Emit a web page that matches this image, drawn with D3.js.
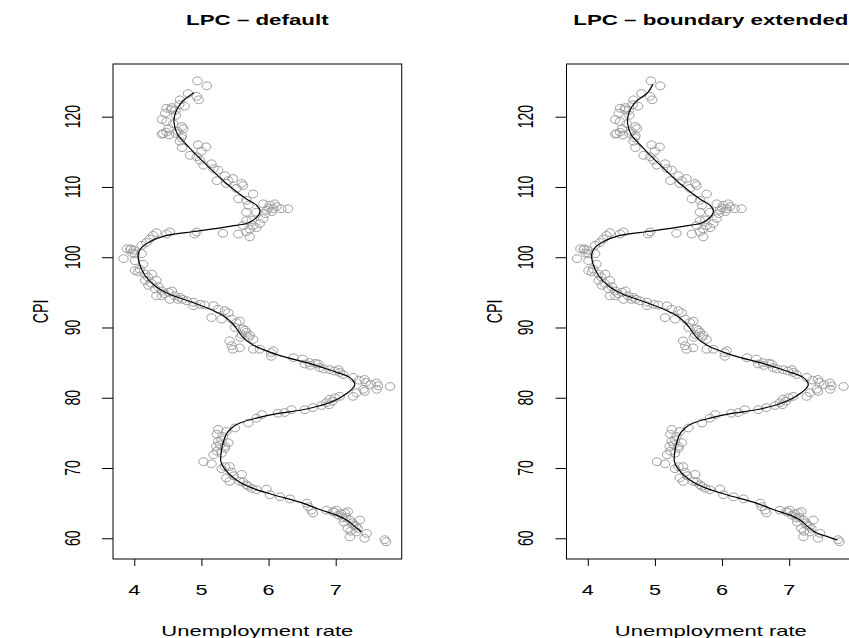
<!DOCTYPE html>
<html><head><meta charset="utf-8">
<script src="https://cdn.jsdelivr.net/npm/d3@7"></script>
<style>html,body{margin:0;padding:0;background:#fff;} svg{display:block}</style>
</head><body><svg id="c" width="849" height="638"></svg>
<script>
// ---- data ----
const unemployment = [4.94,5.08,4.80,4.96,4.93,4.68,4.67,4.75,4.48,4.56,4.61,4.46,4.41,4.48,4.51,4.71,4.73,4.43,4.41,4.48,4.65,4.71,4.68,4.71,4.95,5.07,5.00,4.83,4.93,4.98,5.03,5.15,5.18,5.25,5.23,5.35,5.40,5.37,5.47,5.60,5.62,5.52,5.77,5.55,5.67,5.70,5.92,6.02,6.09,6.07,6.19,6.29,5.97,5.82,5.67,5.67,5.92,5.87,5.77,5.72,5.67,5.55,5.72,5.32,4.93,4.90,4.53,4.48,4.33,4.28,4.23,4.18,4.11,3.89,3.94,3.99,4.11,
3.84,4.01,4.01,4.13,4.01,4.06,4.16,4.26,4.16,4.21,4.33,4.31,4.41,4.33,4.41,4.51,4.56,4.53,4.65,4.68,4.78,4.88,4.88,4.98,5.05,5.18,5.25,5.35,5.40,5.15,5.30,5.45,5.52,5.57,5.50,5.62,5.67,5.60,5.70,5.77,5.42,5.45,5.57,5.47,5.77,5.87,6.04,6.04,6.07,6.37,6.51,6.54,6.61,6.74,6.76,6.91,7.04,7.06,7.11,7.26,7.43,7.61,7.63,7.81,7.41,7.61,7.31,7.43,7.26,7.06,6.99,6.91,6.86,6.79,6.66,6.54,6.34,6.24,6.14,5.90,5.82,5.70,5.50,5.37,5.25,5.23,5.32,5.25,5.40,5.35,
5.23,5.30,5.18,5.03,5.15,5.35,5.42,5.30,5.45,5.60,5.37,5.42,5.57,5.67,5.75,5.82,5.97,6.02,6.17,6.32,6.57,6.59,6.66,6.64,6.86,6.96,7.01,7.04,7.14,7.18,7.11,7.21,7.36,7.26,7.18,7.33,7.31,7.46,7.21,7.43,7.73,7.75,
4.55,4.62,4.58,4.52,4.62,4.70,6.00,6.12,5.95,6.05,5.75,5.82,5.62,3.95,3.97,4.08,4.20,4.25,4.36,4.45,4.60,4.72,5.65,5.72,5.58,6.62,6.82,6.70,6.98,7.35,7.52,7.45,6.95,6.90,5.28,5.35,5.22,5.30,7.08,7.15,7.25,7.30,7.22,6.98,7.12,5.48,5.62,5.70];
const cpi = [125.1,124.4,123.3,122.4,122.9,122.4,121.7,121.5,121.2,121.3,120.9,120.5,119.6,119.3,118.3,118.6,118.3,117.6,117.5,117.8,117.9,117.3,116.5,115.6,116.0,115.7,115.1,114.5,114.3,113.8,113.1,113.3,112.6,112.4,110.9,111.6,110.9,110.5,111.2,110.5,110.2,109.8,109.0,108.3,108.1,107.4,107.6,107.4,107.6,106.9,106.9,106.9,106.7,106.4,106.4,105.2,105.5,104.8,104.5,104.0,103.6,103.3,102.9,103.4,103.6,103.3,103.6,103.3,103.5,103.1,102.6,102.1,101.7,101.2,101.1,101.0,100.5,
99.8,100.5,99.5,99.0,98.1,97.9,97.6,97.6,96.7,96.0,96.7,95.5,95.2,94.5,94.5,95.0,95.2,94.0,94.0,94.3,93.8,93.6,93.1,93.3,93.2,93.1,92.6,92.4,92.1,91.4,91.2,91.2,90.7,90.9,90.0,89.8,89.3,89.0,88.6,88.3,88.1,87.4,87.1,86.9,86.9,86.9,86.4,85.9,86.7,85.7,85.5,84.8,85.0,84.8,84.3,84.0,84.0,83.6,83.3,82.9,82.6,82.1,81.7,81.6,81.2,81.2,80.7,80.9,80.2,80.2,80.0,79.8,79.3,78.9,78.6,78.3,78.3,77.9,77.8,77.6,77.1,76.4,75.7,75.2,75.5,74.8,74.5,73.8,73.6,73.1,
72.4,72.1,71.9,70.9,70.6,70.2,70.2,69.9,69.4,69.1,68.6,68.1,68.1,67.6,67.1,66.9,67.0,66.2,65.9,65.6,65.0,64.5,63.6,64.0,64.0,63.8,64.0,63.3,63.6,63.8,62.9,62.6,62.6,61.9,61.4,61.4,60.9,60.7,60.2,60.0,59.8,59.5,
121.0,120.2,119.0,117.4,117.6,117.0,107.0,107.2,106.2,106.5,105.3,104.2,104.5,101.2,100.6,98.3,97.2,96.3,95.8,94.8,94.5,94.0,89.6,88.9,88.6,84.6,84.1,84.9,83.8,82.5,81.9,82.2,79.5,79.0,73.3,72.8,73.1,74.0,63.5,63.0,62.2,61.7,61.0,63.7,62.3,68.9,68.0,67.4];

// principal curve, default
const lpcDefaultX = [4.89,4.71,4.62,4.59,4.61,4.65,4.83,5.08,5.37,5.67,5.82,5.87,5.85,5.70,5.42,4.93,4.48,4.23,4.11,4.06,4.07,4.16,4.31,4.51,4.80,5.13,5.32,5.47,5.62,5.77,6.17,6.57,6.96,7.21,7.28,7.28,7.18,6.96,6.57,6.17,5.82,5.57,5.45,5.37,5.33,5.30,5.29,5.35,5.52,5.77,6.07,6.51,6.76,7.01,7.16,7.38];
const lpcDefaultY = [123.4,122.1,120.7,119.5,118.3,117.4,115.5,113.1,110.5,108.3,107.4,106.7,106.0,104.9,104.4,103.7,103.1,102.2,101.4,100.5,99.3,97.4,95.9,94.8,93.8,92.6,91.7,90.5,88.6,87.5,86.0,85.0,83.8,82.9,82.1,81.7,80.7,79.5,78.4,77.8,77.1,76.4,75.7,74.8,73.8,72.6,70.9,69.8,68.3,67.1,66.2,65.0,64.1,63.3,62.6,60.9];
// principal curve, boundary extended
const lpcExtX = [4.97].concat(lpcDefaultX, [7.55,7.72]);
const lpcExtY = [124.6].concat(lpcDefaultY, [60.3,59.75]);

const xTicks = [4,5,6,7];
const yTicks = [60,70,80,90,100,110,120];
const titles = ["LPC \u2013 default", "LPC \u2013 boundary extended"];
const xLabel = "Unemployment rate";
const yLabel = "CPI";

// ---- drawing ----
const SX = 1.55;
const FONT = "'Liberation Sans', Arial, Helvetica, sans-serif";
const svg = d3.select('#c');
const W = 288.7, TOP = 64, BOTTOM = 559;
const points = unemployment.map((u,i)=>({u, c: cpi[i]}));

const panels = [
  {left:113, title: titles[0], cx: lpcDefaultX, cy: lpcDefaultY},
  {left:566.5, title: titles[1], cx: lpcExtX, cy: lpcExtY}
];

panels.forEach(p => {
  const x = d3.scaleLinear().domain([3.683, 7.983]).range([p.left, p.left + W]);
  const y = d3.scaleLinear().domain([57.05, 127.5]).range([BOTTOM, TOP]);
  const g = svg.append('g');

  g.append('g').selectAll('ellipse').data(points).join('ellipse')
    .attr('cx', d => x(d.u)).attr('cy', d => y(d.c))
    .attr('rx', 4.7).attr('ry', 3.9)
    .attr('fill', 'none').attr('stroke', '#9e9e9e').attr('stroke-width', 1);

  const line = d3.line().x(d => x(d[0])).y(d => y(d[1])).curve(d3.curveCatmullRom.alpha(0.5));
  g.append('path').datum(p.cx.map((v,i)=>[v, p.cy[i]]))
    .attr('d', line).attr('fill','none').attr('stroke','#000').attr('stroke-width',1.2);

  g.append('rect').attr('x', p.left).attr('y', TOP).attr('width', W).attr('height', BOTTOM - TOP)
    .attr('fill','none').attr('stroke','#000').attr('stroke-width',1);

  const xa = g.append('g').attr('transform', `translate(0,${BOTTOM})`)
    .call(d3.axisBottom(x).tickValues(xTicks).tickSize(7).tickFormat(''));
  xa.select('.domain').remove();
  xa.selectAll('line').attr('stroke','#000');
  g.selectAll('.xl').data(xTicks).join('text')
    .attr('transform', d => `translate(${x(d)},595) scale(${SX},1)`)
    .attr('text-anchor','middle').attr('font-family', FONT).attr('font-size', 14)
    .text(d => d);

  const ya = g.append('g').attr('transform', `translate(${p.left},0)`)
    .call(d3.axisLeft(y).tickValues(yTicks).tickSize(11).tickFormat(''));
  ya.select('.domain').remove();
  ya.selectAll('line').attr('stroke','#000');
  g.selectAll('.yl').data(yTicks).join('text')
    .attr('transform', d => `translate(${p.left - 33.5},${y(d)}) scale(${SX},1) rotate(-90)`)
    .attr('text-anchor','middle').attr('font-family', FONT).attr('font-size', 14)
    .text(d => d);

  g.append('text')
    .attr('transform', `translate(${p.left + W/2},25) scale(${SX},1)`)
    .attr('text-anchor','middle').attr('font-family', FONT).attr('font-size', 14.4).attr('font-weight','bold')
    .text(p.title);
  g.append('text')
    .attr('transform', `translate(${p.left + W/2},636) scale(${SX},1)`)
    .attr('text-anchor','middle').attr('font-family', FONT).attr('font-size', 14.2)
    .text(xLabel);
  g.append('text')
    .attr('transform', `translate(${p.left - 65},${(TOP+BOTTOM)/2}) scale(${SX},1) rotate(-90)`)
    .attr('text-anchor','middle').attr('font-family', FONT).attr('font-size', 14.2)
    .text(yLabel);
});
</script>
</body></html>
